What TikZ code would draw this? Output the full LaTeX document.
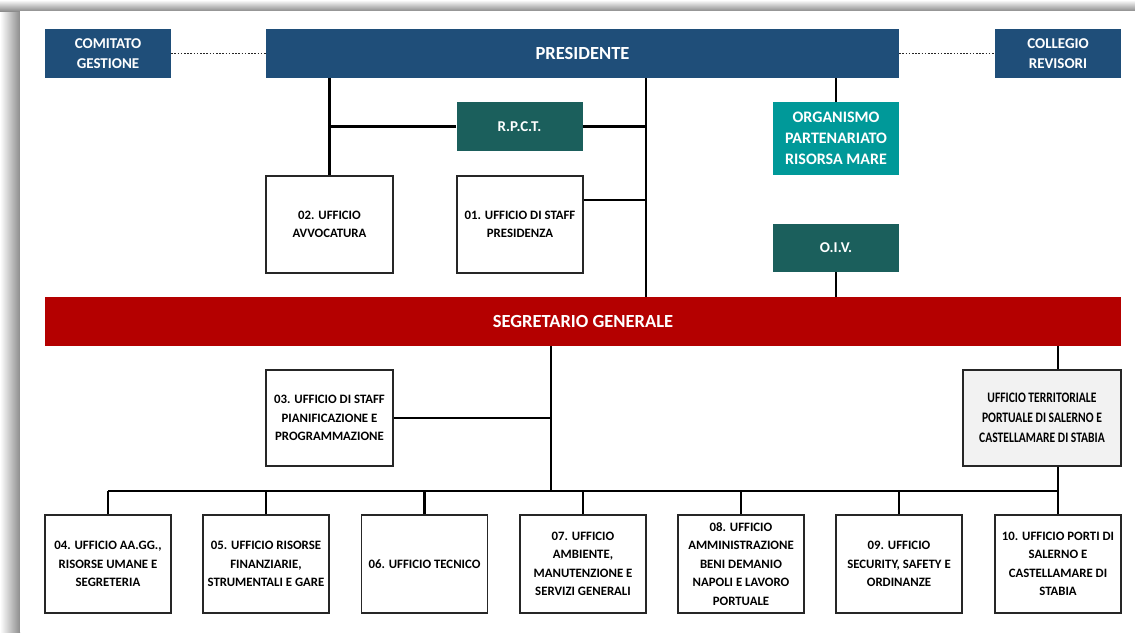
\documentclass[tikz,border=0pt]{standalone}
\usepackage{fontspec}
\setmainfont{Carlito}
\newfontfamily\narrowfont[FakeStretch=0.8]{Carlito}

\definecolor{presblue}{HTML}{1F4E79}
\definecolor{rpctgreen}{HTML}{1B5F5C}
\definecolor{opteal}{HTML}{009999}
\definecolor{sgred}{HTML}{B40000}
\definecolor{terrgray}{HTML}{F2F2F2}

\begin{document}
\begin{tikzpicture}[x=1pt, y=-1pt,
        every node/.style={align=center, inner sep=0pt},
        headbox/.style={fill=presblue, text=white, minimum width=126pt, minimum height=49pt,
            font=\bfseries\fontsize{15}{20}\selectfont},
        greenbox/.style={fill=rpctgreen, text=white, minimum width=126pt, minimum height=49pt,
            font=\bfseries\fontsize{15}{20}\selectfont},
        uffbox/.style={draw=black!85, line width=1.2pt, fill=white, minimum width=126pt, minimum height=97pt,
            font=\bfseries\fontsize{12.8}{18.5}\selectfont},
        link/.style={line width=2.4pt},
        dotlink/.style={line width=1.4pt, black!85, dash pattern=on 1.6pt off 1.6pt}]
    \useasboundingbox (0,0) rectangle (1135,632);
    % page shadow
    \shade[left color=white, right color=black!45] (0,0) rectangle (20,632);
    \shade[top color=white, bottom color=black!45] (0,0) rectangle (1135,11);
    \fill[white] (20,11) rectangle (1135,632);

    \node[headbox] (cg) at (108,53.5) {COMITATO\\GESTIONE};
    \node[headbox, minimum width=633pt, font=\bfseries\fontsize{18.5}{22}\selectfont] (pres) at (582.5,53.5) {PRESIDENTE};
    \node[headbox] (cr) at (1058,53.5) {COLLEGIO\\REVISORI};
    \node[greenbox] (rpct) at (519.5,126.5) {R.P.C.T.};
    \node[greenbox, fill=opteal, minimum height=73pt, font=\bfseries\fontsize{16}{21}\selectfont] (opr) at (836,138.5) {ORGANISMO\\PARTENARIATO\\RISORSA MARE};
    \node[uffbox, minimum width=127pt] (uff02) at (329.5,224.5) {02. UFFICIO\\AVVOCATURA};
    \node[uffbox] (uff01) at (520,224.5) {01. UFFICIO DI STAFF\\PRESIDENZA};
    \node[greenbox, minimum height=48pt] (oiv) at (836,248) {O.I.V.};
    \node[fill=sgred, text=white, minimum width=1076pt, minimum height=49pt,
        font=\bfseries\fontsize{18.5}{22}\selectfont] (sg) at (583,321.5) {SEGRETARIO GENERALE};
    \node[uffbox, minimum width=127pt, minimum height=96pt] (uff03) at (329.5,418) {03. UFFICIO DI STAFF\\PIANIFICAZIONE E\\PROGRAMMAZIONE};
    \node[uffbox, fill=terrgray, minimum width=158pt, minimum height=96pt,
        font=\narrowfont\bfseries\fontsize{14.5}{20}\selectfont] (uterr) at (1042,418) {UFFICIO TERRITORIALE\\PORTUALE DI SALERNO E\\CASTELLAMARE DI STABIA};

    \node[uffbox, minimum height=98pt] (u04) at (108,564) {04. UFFICIO AA.GG.,\\RISORSE UMANE E\\SEGRETERIA};
    \node[uffbox, minimum height=98pt] (u05) at (266,564) {05. UFFICIO RISORSE\\FINANZIARIE,\\STRUMENTALI E GARE};
    \node[uffbox, minimum height=98pt] (u06) at (424.5,564) {06. UFFICIO TECNICO};
    \node[uffbox, minimum height=98pt] (u07) at (583,564) {07. UFFICIO\\AMBIENTE,\\MANUTENZIONE E\\SERVIZI GENERALI};
    \node[uffbox, minimum height=98pt] (u08) at (741,564) {08. UFFICIO\\AMMINISTRAZIONE\\BENI DEMANIO\\NAPOLI E LAVORO\\PORTUALE};
    \node[uffbox, minimum height=98pt] (u09) at (899,564) {09. UFFICIO\\SECURITY, SAFETY E\\ORDINANZE};
    \node[uffbox, minimum height=98pt] (u10) at (1058,564) {10. UFFICIO PORTI DI\\SALERNO E\\CASTELLAMARE DI\\STABIA};

    \coordinate (spine) at (646,200);
    \coordinate (bus) at (551,491);

    \draw[dotlink] (cg.east) -- (pres.west);
    \draw[dotlink] (pres.east) -- (cr.west);
    \draw[link] (uff02.north) -- (uff02.north |- pres.south);
    \draw[link] (spine |- pres.south) -- (spine |- sg.north);
    \draw[link] (rpct.west) -- (rpct.west -| uff02.north);
    \draw[link] (rpct.east) -- (rpct.east -| spine);
    \draw[link] (spine -| uff01.east) -- (spine);
    \draw[link] (opr.north) -- (opr.north |- pres.south);
    \draw[link] (oiv.south) -- (oiv.south |- sg.north);
    \draw[link] (bus |- sg.south) -- (bus);
    \draw[link] (uff03.east) -- (uff03.east -| bus);
    \draw[link] (u10.north |- sg.south) -- (u10.north |- uterr.north);
    \draw[link] (u10.north |- uterr.south) -- (u10.north |- bus);
    \draw[link] (u04.north |- bus) -- (u10.north |- bus);
    \foreach \b in {u04,u05,u06,u07,u08,u09,u10}
        \draw[link] (\b.north) -- (\b.north |- bus);
\end{tikzpicture}
\end{document}
